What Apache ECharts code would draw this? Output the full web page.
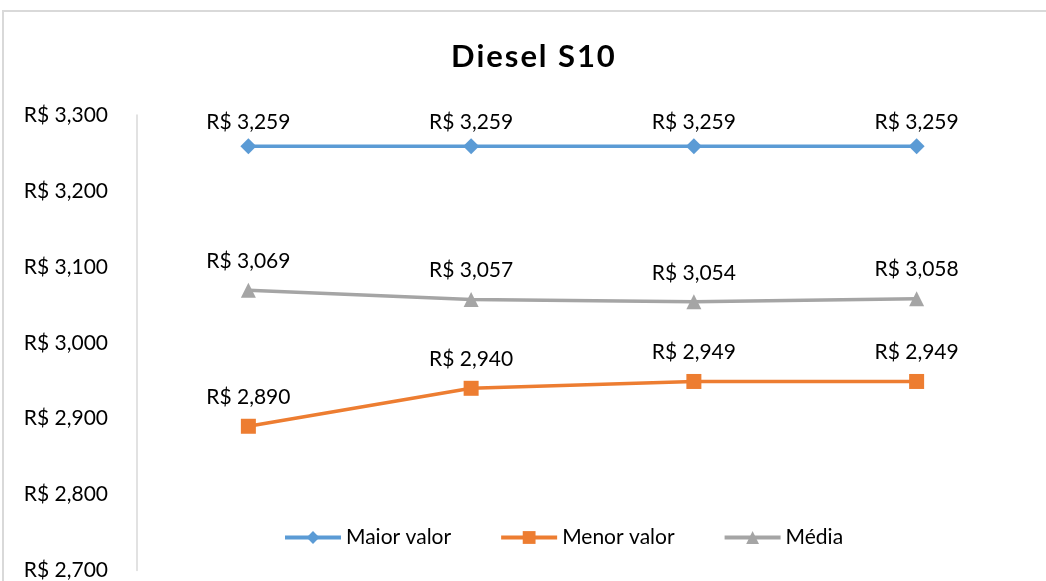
<!DOCTYPE html>
<html>
<head>
<meta charset="utf-8">
<script src="https://cdn.jsdelivr.net/npm/echarts@6/dist/echarts.min.js"></script>
<style>
  html, body { margin: 0; padding: 0; background: #fff; }
  #chart { width: 1046px; height: 581px; }
</style>
</head>
<body>
<div id="chart"></div>
<script>
// valores
const categorias = ['Semana 1', 'Semana 2', 'Semana 3', 'Semana 4'];
const maiorValor = [3.259, 3.259, 3.259, 3.259];
const menorValor = [2.890, 2.940, 2.949, 2.949];
const media = [3.069, 3.057, 3.054, 3.058];

const fonte = 'Lato';

function brl (v) {
  return 'R$ ' + v.toFixed(3).replace('.', ',');
}

function rotulo (dist) {
  return {
    show: true,
    position: 'top',
    distance: dist,
    color: '#000',
    fontFamily: fonte,
    fontSize: 21,
    formatter: p => brl(p.value)
  };
}

const option = {
  animation: false,
  title: {
    // título espaçado como no original
    text: 'Diesel S10'.split('').join('\u200a'),
    left: 446,
    top: 36,
    textStyle: {
      fontFamily: fonte,
      fontWeight: 'bold',
      fontSize: 31,
      color: '#000'
    }
  },
  graphic: [{
    type: 'rect',
    shape: { x: 3, y: 11, width: 1100, height: 620 },
    style: { fill: 'none', stroke: '#d9d9d9', lineWidth: 2 },
    silent: true
  }],
  grid: {
    left: 137,
    right: 18,
    top: 115,
    bottom: 8
  },
  legend: {
    bottom: 28,
    left: 278,
    itemGap: 48,
    itemWidth: 56,
    itemHeight: 16,
    lineStyle: { width: 4 },
    textStyle: { fontFamily: fonte, fontSize: 21, color: '#000' },
    data: ['Maior valor', 'Menor valor', 'Média']
  },
  xAxis: {
    type: 'category',
    data: categorias,
    axisLine: { show: false },
    axisTick: { show: false },
    axisLabel: { show: false }
  },
  yAxis: {
    type: 'value',
    min: 2.7,
    max: 3.3,
    interval: 0.1,
    axisLine: { show: true, lineStyle: { color: '#d9d9d9', width: 1.5 } },
    axisTick: { show: false },
    splitLine: { show: false },
    axisLabel: {
      margin: 29,
      color: '#000',
      fontFamily: fonte,
      fontSize: 21,
      formatter: v => brl(v)
    }
  },
  series: [{
    name: 'Maior valor',
    type: 'line',
    data: maiorValor,
    symbol: 'diamond',
    symbolSize: 16,
    lineStyle: { width: 3.5, color: '#5b9bd5' },
    itemStyle: { color: '#5b9bd5' },
    label: rotulo(5)
  }, {
    name: 'Menor valor',
    type: 'line',
    data: menorValor,
    symbol: 'rect',
    symbolSize: 15,
    lineStyle: { width: 3.5, color: '#ed7d31' },
    itemStyle: { color: '#ed7d31' },
    label: rotulo(11)
  }, {
    name: 'Média',
    type: 'line',
    data: media,
    symbol: 'triangle',
    symbolSize: 15,
    lineStyle: { width: 3.5, color: '#a5a5a5' },
    itemStyle: { color: '#a5a5a5' },
    label: rotulo(11)
  }]
};

const grafico = echarts.init(document.getElementById('chart'));
grafico.setOption(option);
</script>
</body>
</html>
